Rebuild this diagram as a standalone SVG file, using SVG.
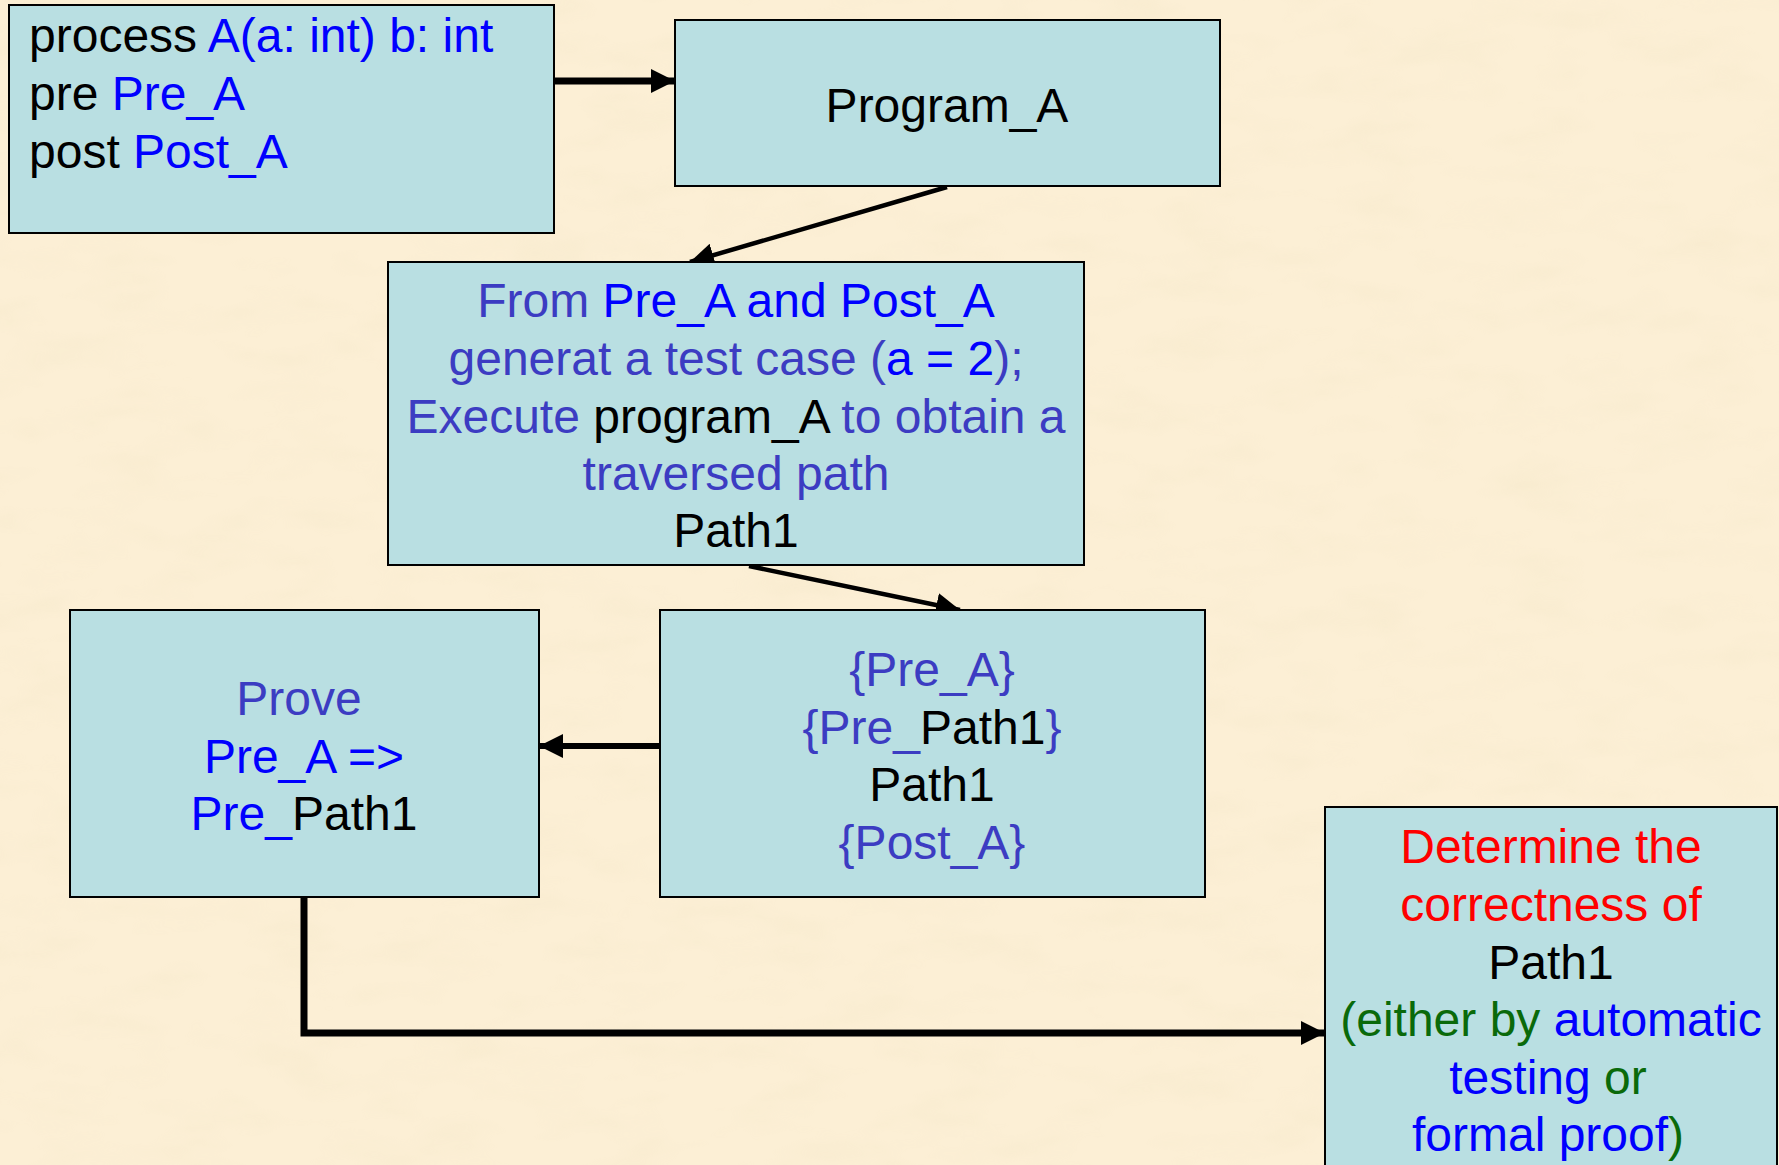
<svg xmlns="http://www.w3.org/2000/svg" width="1779" height="1165" viewBox="0 0 1779 1165">
  <style>
    .box { fill: #B9DFE2; stroke: #000; stroke-width: 2; }
    .t { font-family: "Liberation Sans", Arial, sans-serif; font-size: 48px; fill: #000; }
    .c { text-anchor: middle; }
    .k { fill: #000; }
    .b { fill: #0000FF; }
    .s { fill: #3C3CC2; }
    .r { fill: #FF0000; }
    .g { fill: #0A6A0A; }
    .wire { fill: none; stroke: #000; stroke-linejoin: miter; }
  </style>
  <defs>
    <!-- parchment grain for the page background -->
    <filter id="grain" x="0" y="0" width="100%" height="100%">
      <feTurbulence type="fractalNoise" baseFrequency="0.012 0.03" numOctaves="3" seed="7" result="n"/>
      <feColorMatrix in="n" type="matrix"
        values="0 0 0 0 0.90
                0 0 0 0 0.80
                0 0 0 0 0.58
                0 0 0 1.6 -0.75"/>
    </filter>
    <marker id="head" viewBox="0 0 10 10" refX="10" refY="5" markerWidth="24" markerHeight="24" markerUnits="userSpaceOnUse" orient="auto">
      <path d="M0,0 L10,5 L0,10 z" fill="#000"/>
    </marker>
  </defs>

  <!-- background -->
  <rect x="0" y="0" width="1779" height="1165" fill="#FCEFD5"/>
  <rect x="0" y="0" width="1779" height="1165" filter="url(#grain)" opacity="0.5"/>

  <!-- connectors -->
  <g id="connectors">
    <path class="wire" d="M554,81 L675,81" stroke-width="7" marker-end="url(#head)"/>
    <path class="wire" d="M947,187 L690,262" stroke-width="4.5" marker-end="url(#head)"/>
    <path class="wire" d="M749,566 L960,610" stroke-width="4.5" marker-end="url(#head)"/>
    <path class="wire" d="M660,746 L539,746" stroke-width="6" marker-end="url(#head)"/>
    <path class="wire" d="M304,897 L304,1033 L1325,1033" stroke-width="7" marker-end="url(#head)"/>
  </g>

  <!-- spec of process A -->
  <g id="node-spec">
    <rect class="box" x="9" y="5" width="545" height="228"/>
    <text class="t" x="29" y="52"><tspan class="k">process </tspan><tspan class="b">A(a: int) b: int</tspan></text>
    <text class="t" x="29" y="110"><tspan class="k">pre </tspan><tspan class="b">Pre_A</tspan></text>
    <text class="t" x="29" y="168"><tspan class="k">post </tspan><tspan class="b">Post_A</tspan></text>
  </g>

  <!-- program under test -->
  <g id="node-program">
    <rect class="box" x="675" y="20" width="545" height="166"/>
    <text class="t c" x="947" y="122">Program_A</text>
  </g>

  <!-- test generation and execution -->
  <g id="node-execute">
    <rect class="box" x="388" y="262" width="696" height="303"/>
    <text class="t c" x="736" y="317"><tspan class="s">From </tspan><tspan class="b">Pre_A and Post_A</tspan></text>
    <text class="t c" x="736" y="375"><tspan class="s">generat a test case (</tspan><tspan class="b">a = 2</tspan><tspan class="s">);</tspan></text>
    <text class="t c" x="736" y="433"><tspan class="s">Execute </tspan><tspan class="k">program_A</tspan><tspan class="s"> to obtain a</tspan></text>
    <text class="t c s" x="736" y="490">traversed path</text>
    <text class="t c" x="736" y="547">Path1</text>
  </g>

  <!-- proof obligation -->
  <g id="node-prove">
    <rect class="box" x="70" y="610" width="469" height="287"/>
    <text class="t c s" x="299" y="715">Prove</text>
    <text class="t c b" x="304" y="773">Pre_A =&gt;</text>
    <text class="t c" x="304" y="830"><tspan class="b">Pre_</tspan><tspan class="k">Path1</tspan></text>
  </g>

  <!-- path triple -->
  <g id="node-triple">
    <rect class="box" x="660" y="610" width="545" height="287"/>
    <text class="t c s" x="932" y="686">{Pre_A}</text>
    <text class="t c" x="932" y="744"><tspan class="s">{Pre_</tspan><tspan class="k">Path1</tspan><tspan class="s">}</tspan></text>
    <text class="t c" x="932" y="801">Path1</text>
    <text class="t c s" x="932" y="859">{Post_A}</text>
  </g>

  <!-- correctness decision -->
  <g id="node-decide">
    <rect class="box" x="1325" y="807" width="452" height="370"/>
    <text class="t c r" x="1551" y="863">Determine the</text>
    <text class="t c r" x="1551" y="921">correctness of</text>
    <text class="t c" x="1551" y="979">Path1</text>
    <text class="t c" x="1551" y="1036"><tspan class="g">(either by </tspan><tspan class="b">automatic</tspan></text>
    <text class="t c" x="1548" y="1094"><tspan class="b">testing</tspan><tspan class="g"> or</tspan></text>
    <text class="t c" x="1548" y="1151"><tspan class="b">formal proof</tspan><tspan class="g">)</tspan></text>
  </g>
</svg>
